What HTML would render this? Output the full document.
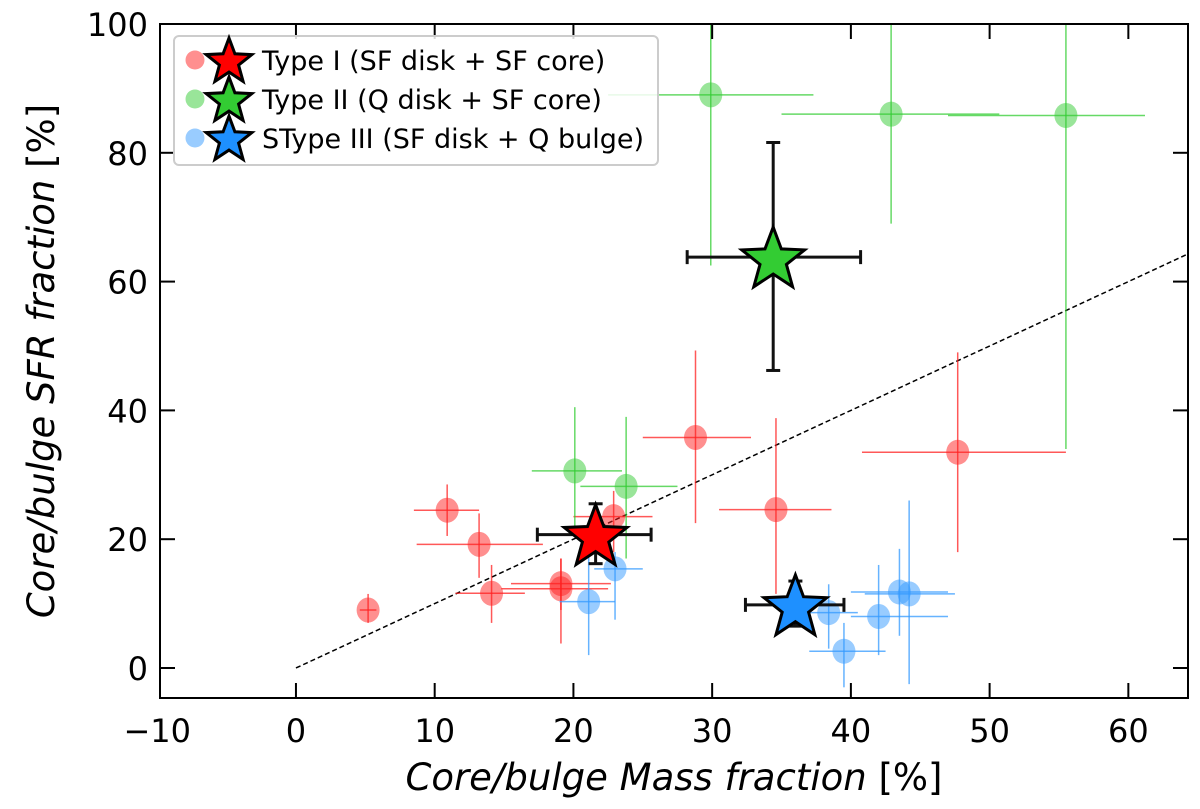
<!DOCTYPE html>
<html><head><meta charset="utf-8"><style>
body{margin:0;background:#fff;}
svg text{font-family:"DejaVu Sans","Liberation Sans",sans-serif;}
</style></head><body>
<svg id="chart" width="1200" height="804" xmlns="http://www.w3.org/2000/svg">
<defs><clipPath id="plotclip"><rect x="160" y="24" width="1028" height="674"/></clipPath></defs>
<rect x="0" y="0" width="1200" height="804" fill="#fff"/>
<g id="marks" clip-path="url(#plotclip)"></g>
<g id="axes"></g>
</svg>
<script>
// Type I (red) points
const t1x=[5.2,10.9,13.2,14.1,19.1,19.1,22.9,28.8,34.6,47.7];
const t1y=[9,24.5,19.2,11.6,13.1,12.3,23.5,35.8,24.6,33.5];
const t1xlo=[4.6,8.5,8.7,11.5,15.5,14.8,20,25,30.5,40.8];
const t1xhi=[5.8,13.2,17.8,16.5,22.7,22.5,25.7,32.8,38.6,55.5];
const t1ylo=[7,20.5,14,7,9,3.8,18,22.5,11.5,18];
const t1yhi=[11.5,28.5,24,16,17,17,27.5,49.3,38.8,49];
// Type II (green) points
const t2x=[29.9,42.9,55.5,20.1,23.8];
const t2y=[89,86,85.8,30.6,28.2];
const t2xlo=[22.5,35,47,17,20.5];
const t2xhi=[37.3,50.7,61.2,23.5,27.5];
const t2ylo=[62.5,69,34,21,17];
const t2yhi=[110,110,110,40.5,39];
// Type III (blue) points
const t3x=[21.1,23,38.4,39.5,42,43.5,44.2];
const t3y=[10.3,15.4,8.6,2.6,8,11.8,11.5];
const t3xlo=[19,21.5,36,37,40,40,41];
const t3xhi=[23,25,40.5,42.5,47,47,47.5];
const t3ylo=[2,7.5,3,-3,2,5,-2.5];
const t3yhi=[18,18,13,7,16,18.5,26];
// Mean stars
const sx=[21.6,34.4,36];
const sy=[20.7,63.8,9.8];
const sxlo=[17.4,28.2,32.4];
const sxhi=[25.6,40.7,39.5];
const sylo=[16.2,46.2,6.5];
const syhi=[25.5,81.6,13.5];
const xTicks=[-10,0,10,20,30,40,50,60];
const yTicks=[0,20,40,60,80,100];

const X0=160,X1=1188,Y0=698,Y1=24,XMIN=-9.8,XMAX=64.3,YMIN=-4.66,YMAX=100;
const px=v=>X0+(v-XMIN)/(XMAX-XMIN)*(X1-X0);
const py=v=>Y0-(v-YMIN)/(YMAX-YMIN)*(Y0-Y1);
const NS="http://www.w3.org/2000/svg";
const marks=document.getElementById('marks'),axes=document.getElementById('axes');
function mk(tag,attrs,parent){const e=document.createElementNS(NS,tag);for(const k in attrs)e.setAttribute(k,attrs[k]);parent.appendChild(e);return e;}

let dl=mk('line',{x1:px(0),y1:py(0),x2:px(65),y2:py(65),stroke:'#000','stroke-width':1.5,'stroke-dasharray':'5,3'},marks);



function series(xs,ys,xl,xh,yl,yh,col,name){
  const g=mk('g',{},marks);
  
  
  for(let i=0;i<xs.length;i++){
    const p=mk('g',{},g);
    
    
    mk('line',{x1:px(xl[i]),x2:px(xh[i]),y1:py(ys[i]),y2:py(ys[i]),stroke:col,'stroke-width':1.5,'stroke-opacity':0.75},p);
    mk('line',{x1:px(xs[i]),x2:px(xs[i]),y1:py(yl[i]),y2:py(yh[i]),stroke:col,'stroke-width':1.5,'stroke-opacity':0.75},p);
    mk('ellipse',{cx:px(xs[i]),cy:py(ys[i]),rx:11.5,ry:12.5,fill:col,'fill-opacity':0.5},p);
  }
}
series(t1x,t1y,t1xlo,t1xhi,t1ylo,t1yhi,'#ff2020','type1');
series(t2x,t2y,t2xlo,t2xhi,t2ylo,t2yhi,'#33cc33','type2');
series(t3x,t3y,t3xlo,t3xhi,t3ylo,t3yhi,'#3399ff','type3');

function starPts(cx,cy,R){const r=R*0.42;let s=[];for(let k=0;k<10;k++){const a=-Math.PI/2+k*Math.PI/5;const rr=k%2?r:R;s.push((cx+rr*Math.cos(a)).toFixed(1)+','+(cy+rr*Math.sin(a)).toFixed(1));}return s.join(' ');}
const scol=['#ff0000','#33cc33','#1e90ff'];
const snames=['type1-mean-star','type2-mean-star','type3-mean-star'];
for(let i=0;i<sx.length;i++){
  const g=mk('g',{},marks);
  
  
  const cx=px(sx[i]),cy=py(sy[i]);
  mk('line',{x1:px(sxlo[i]),x2:px(sxhi[i]),y1:cy,y2:cy,stroke:'#111','stroke-width':3},g);
  mk('line',{x1:cx,x2:cx,y1:py(sylo[i]),y2:py(syhi[i]),stroke:'#111','stroke-width':3},g);
  [[px(sxlo[i]),cy,1],[px(sxhi[i]),cy,1],[cx,py(sylo[i]),0],[cx,py(syhi[i]),0]].forEach(c=>{
    if(c[2])mk('line',{x1:c[0],x2:c[0],y1:c[1]-7,y2:c[1]+7,stroke:'#111','stroke-width':3},g);
    else mk('line',{x1:c[0]-7,x2:c[0]+7,y1:c[1],y2:c[1],stroke:'#111','stroke-width':3},g);
  });
  mk('polygon',{points:starPts(cx,cy+3,33),fill:scol[i],stroke:'#000','stroke-width':3,'stroke-linejoin':'miter'},g);
}

let fr=mk('rect',{x:X0,y:Y1,width:X1-X0,height:Y0-Y1,fill:'none',stroke:'#000','stroke-width':2},axes);


xTicks.forEach(t=>{
  const x=px(t);
  if(x>=X0+2){
    mk('line',{x1:x,x2:x,y1:Y0,y2:Y0-15,stroke:'#000','stroke-width':2},axes);
    mk('line',{x1:x,x2:x,y1:Y1,y2:Y1+15,stroke:'#000','stroke-width':2},axes);
  }
  const tx=mk('text',{x:x,y:Y0+44,'font-size':32,'text-anchor':'middle'},axes);
  tx.textContent=t<0?'\u2212'+(-t):t;
  
  
});
yTicks.forEach(t=>{
  const y=py(t);
  mk('line',{x1:X0,x2:X0+15,y1:y,y2:y,stroke:'#000','stroke-width':2},axes);
  mk('line',{x1:X1,x2:X1-15,y1:y,y2:y,stroke:'#000','stroke-width':2},axes);
  const tx=mk('text',{x:X0-12,y:y+12,'font-size':32,'text-anchor':'end'},axes);
  tx.textContent=t;
  
  
});
let xl=mk('text',{x:674,y:790,'font-size':37,'text-anchor':'middle'},axes);
xl.innerHTML='<tspan font-style="italic">Core/bulge Mass fraction</tspan> [%]';


let yl=mk('text',{x:0,y:0,'font-size':37,'text-anchor':'middle',transform:'translate(54,361) rotate(-90)'},axes);
yl.innerHTML='<tspan font-style="italic">Core/bulge SFR fraction</tspan> [%]';



const lg=mk('g',{},axes);


mk('rect',{x:174,y:36,width:484,height:129,rx:5,fill:'#fff','fill-opacity':0.85,stroke:'#ccc','stroke-width':2},lg);
const lt=['Type I (SF disk + SF core)','Type II (Q disk + SF core)','SType III (SF disk + Q bulge)'];
const lc=['#ff2020','#33cc33','#3399ff'];
for(let i=0;i<3;i++){
  const y=60+i*39;
  const e=mk('g',{},lg);
  
  
  mk('circle',{cx:195,cy:y,r:9.5,fill:lc[i],'fill-opacity':0.5},e);
  mk('polygon',{points:starPts(229,y+2,24),fill:scol[i],stroke:'#000','stroke-width':3},e);
  const t=mk('text',{x:262,y:y+10,'font-size':27},e);
  t.textContent=lt[i];
}
</script>
</body></html>
